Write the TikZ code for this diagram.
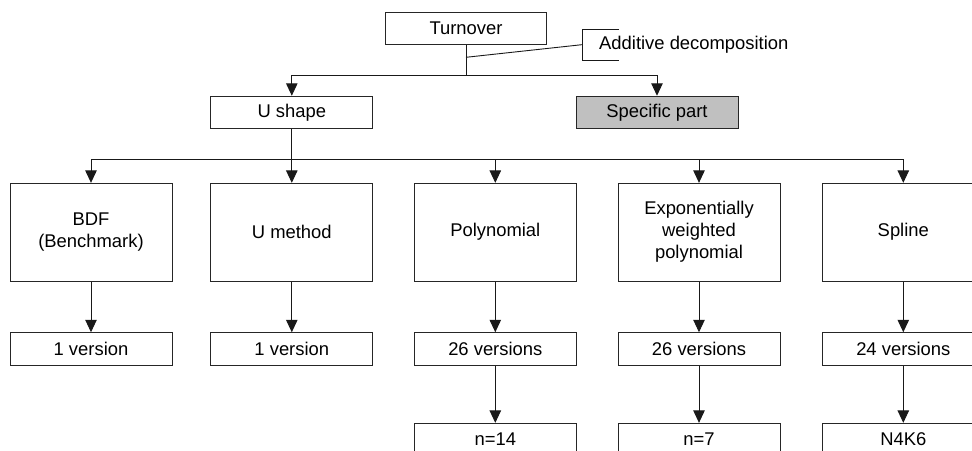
\documentclass[tikz,border=0pt]{standalone}
\usepackage{fontspec}
\setmainfont{Liberation Sans}
\usetikzlibrary{arrows.meta}
\begin{document}
\begin{tikzpicture}[x=1pt,y=-1pt,
  every node/.style={font=\fontsize{18.4}{22}\selectfont, align=center, inner sep=0pt},
  box/.style={draw=black!85, line width=1pt, minimum width=162pt, minimum height=32.5pt},
  bigbox/.style={box, minimum height=97.7pt},
  conn/.style={draw=black!90, line width=1pt},
  arr/.style={conn, -{Triangle[length=12.5pt,width=11.5pt]}}
]
\useasboundingbox (0,0) rectangle (972,450);
\clip (0,0) rectangle (972,450);

% top
\node[box, minimum width=161pt, minimum height=32pt] (turn) at (466,28.3) {Turnover};
\node[box] (ushape) at (291.8,112.5) {U shape};
\node[box, fill={rgb,255:red,192;green,192;blue,192}] (spec) at (657,112.5) {Specific part};

\coordinate (j1) at (466,75.3);
\coordinate (tap) at (466,57.3);
\draw[conn] (turn.south) -- (j1);
\draw[arr] (j1) -| (ushape.north);
\draw[arr] (j1) -| (spec.north);

% annotation
\node[anchor=west] (add) at (599,44.5) {Additive decomposition};
\coordinate (brt) at (619,29.3);
\coordinate (brl) at (582.7,29.3);
\coordinate (brm) at (582.7,44.6);
\coordinate (bbl) at (582.7,60);
\coordinate (bbr) at (619,60);
\draw[conn, line width=0.9pt] (brt) -- (brl) -- (bbl) -- (bbr);
\draw[conn, line width=0.9pt] (tap) -- (brm);

% methods row
\node[bigbox] (m1) at (91,232.2) {BDF\\(Benchmark)};
\node[bigbox] (m2) at (291.8,232.2) {U method};
\node[bigbox] (m3) at (495.3,232.2) {Polynomial};
\node[bigbox] (m4) at (699,232.2) {Exponentially\\weighted\\polynomial};
\node[bigbox] (m5) at (903.3,232.2) {Spline};

\coordinate (j2) at (291.8,159.6);
\draw[conn] (ushape.south) -- (j2);
\foreach \i in {1,3,4,5} { \draw[arr] (j2) -| (m\i.north); }
\draw[arr] (j2) -- (m2.north);

% versions row
\node[box] (v1) at (91,349) {1 version};
\node[box] (v2) at (291.8,349) {1 version};
\node[box] (v3) at (495.3,349) {26 versions};
\node[box] (v4) at (699,349) {26 versions};
\node[box] (v5) at (903.3,349) {24 versions};
\foreach \i in {1,...,5} { \draw[arr] (m\i.south) -- (v\i.north); }

% last row
\node[box] (n3) at (495.3,439.6) {n=14};
\node[box] (n4) at (699,439.6) {n=7};
\node[box] (n5) at (903.3,439.6) {N4K6};
\foreach \i in {3,4,5} { \draw[arr] (v\i.south) -- (n\i.north); }
\end{tikzpicture}
\end{document}
